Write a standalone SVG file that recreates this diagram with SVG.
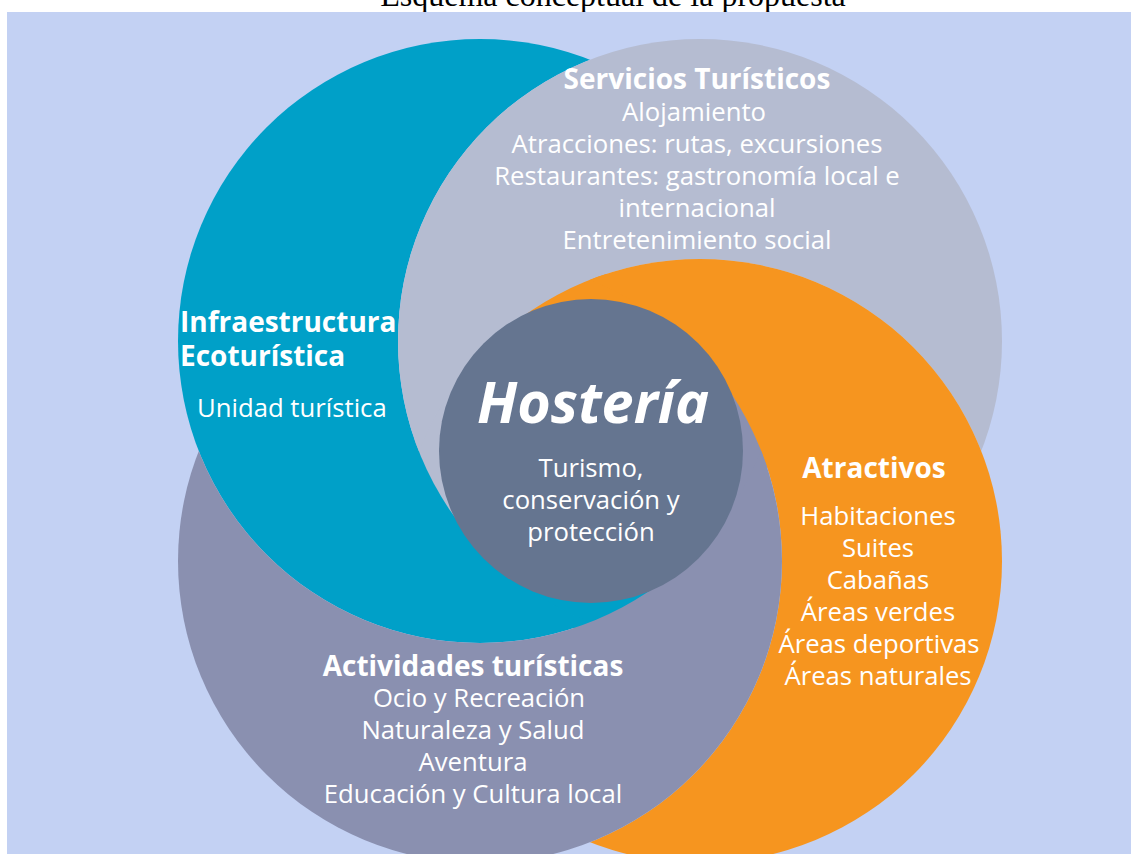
<svg xmlns="http://www.w3.org/2000/svg" width="1131" height="854" viewBox="0 0 1131 854">
<style>
.t{font-family:"Open Sans","Noto Sans","DejaVu Sans",sans-serif;fill:#ffffff;}
.b{font-weight:bold;}
.r{font-size:25.7px;}
.h{font-size:28px;font-weight:bold;}
.c{text-anchor:middle;}
</style>
<defs>
<mask id="mTeal" maskUnits="userSpaceOnUse" x="0" y="0" width="1131" height="854"><rect width="1131" height="854" fill="#fff"/><circle cx="700" cy="341" r="302" fill="#000"/></mask>
<mask id="mGray" maskUnits="userSpaceOnUse" x="0" y="0" width="1131" height="854"><rect width="1131" height="854" fill="#fff"/><circle cx="700" cy="561" r="302" fill="#000"/></mask>
<mask id="mOrange" maskUnits="userSpaceOnUse" x="0" y="0" width="1131" height="854"><rect width="1131" height="854" fill="#fff"/><circle cx="480" cy="561" r="302" fill="#000"/></mask>
<mask id="mPurple" maskUnits="userSpaceOnUse" x="0" y="0" width="1131" height="854"><rect width="1131" height="854" fill="#fff"/><circle cx="480" cy="341" r="302" fill="#000"/></mask>
<clipPath id="cCore"><circle cx="590" cy="451" r="178"/></clipPath>
</defs>
<rect x="0" y="0" width="1131" height="854" fill="#ffffff"/>
<text x="613" y="6" font-family="'Liberation Serif','Times New Roman',serif" font-size="32" text-anchor="middle" fill="#000">Esquema conceptual de la propuesta</text>
<rect x="7" y="12" width="1124" height="842" fill="#C3D1F3"/>
<g id="connectors"></g>
<g id="swirl-core" clip-path="url(#cCore)">
<polygon points="590,451 370,231 810,231" fill="#F6951F"/>
<polygon points="590,451 810,231 810,671" fill="#8A90B0"/>
<polygon points="590,451 810,671 370,671" fill="#00A0C8"/>
<polygon points="590,451 370,671 370,231" fill="#B5BCD1"/>
</g>
<g id="infraestructura">
<circle cx="480" cy="341" r="302" fill="#00A0C8" mask="url(#mTeal)"/>
<text class="t h" x="180" y="332">Infraestructura</text>
<text class="t h" x="180" y="366">Ecoturística</text>
<text class="t r" x="197" y="417">Unidad turística</text>
</g>
<g id="servicios">
<circle cx="700" cy="341" r="302" fill="#B5BCD1" mask="url(#mGray)"/>
<text class="t h c" x="697" y="89">Servicios Turísticos</text>
<text class="t r c" x="694" y="121">Alojamiento</text>
<text class="t r c" x="697" y="153">Atracciones: rutas, excursiones</text>
<text class="t r c" x="697" y="185">Restaurantes: gastronomía local e</text>
<text class="t r c" x="697" y="217">internacional</text>
<text class="t r c" x="697" y="249">Entretenimiento social</text>
</g>
<g id="atractivos">
<circle cx="700" cy="561" r="302" fill="#F6951F" mask="url(#mOrange)"/>
<text class="t h c" x="874" y="478">Atractivos</text>
<text class="t r c" x="878" y="525">Habitaciones</text>
<text class="t r c" x="878" y="557">Suites</text>
<text class="t r c" x="878" y="589">Cabañas</text>
<text class="t r c" x="878" y="621">Áreas verdes</text>
<text class="t r c" x="879" y="653">Áreas deportivas</text>
<text class="t r c" x="878" y="685">Áreas naturales</text>
</g>
<g id="actividades">
<circle cx="480" cy="561" r="302" fill="#8A90B0" mask="url(#mPurple)"/>
<text class="t h c" x="473" y="676">Actividades turísticas</text>
<text class="t r c" x="479" y="707">Ocio y Recreación</text>
<text class="t r c" x="473" y="739">Naturaleza y Salud</text>
<text class="t r c" x="473" y="771">Aventura</text>
<text class="t r c" x="473" y="803">Educación y Cultura local</text>
</g>
<g id="hosteria">
<circle cx="591" cy="451" r="152" fill="#657590"/>
<text class="t c b" x="593" y="423" font-size="57.5" font-style="italic">Hostería</text>
<text class="t r c" x="591" y="477">Turismo,</text>
<text class="t r c" x="591" y="509">conservación y</text>
<text class="t r c" x="591" y="541">protección</text>
</g>
</svg>
